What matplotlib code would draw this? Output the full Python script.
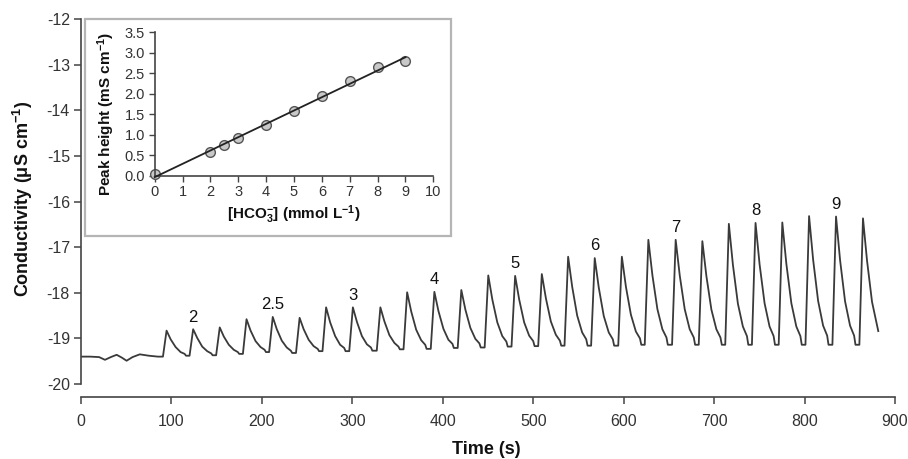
#!/usr/bin/env python3
import numpy as np
from matplotlib import pyplot as plt
from matplotlib.patches import Rectangle

plt.rcParams["font.family"] = ["Liberation Sans", "DejaVu Sans"]
plt.rcParams["mathtext.fontset"] = "custom"
plt.rcParams["mathtext.rm"] = "Liberation Sans"
plt.rcParams["mathtext.bf"] = "Liberation Sans:bold"
plt.rcParams["mathtext.it"] = "Liberation Sans:italic"
plt.rcParams["axes.unicode_minus"] = False

# conductivity trace (s, uS/cm), one injection per line
time_s = [
    0, 10, 20, 26.5, 33, 39.4, 45, 50.4, 57, 65, 75, 85,
    90.6, 94.6, 99.1, 104.6, 110.1, 114.6, 116.1,
    120, 124, 128.5, 134, 139.5, 144, 145.5,
    149.4, 153.4, 157.9, 163.4, 168.9, 173.4, 174.9,
    179, 183, 187.5, 193, 198.5, 203, 204.5,
    208, 212, 216.5, 222, 227.5, 232, 233.5,
    237.7, 241.7, 246.2, 251.7, 257.2, 261.7, 263.2,
    267, 271, 275.5, 281, 286.5, 291, 292.5,
    296.6, 300.6, 305.1, 310.6, 316.1, 320.6, 322.1,
    327, 331, 335.5, 341, 346.5, 351, 352.5,
    356.6, 360.6, 365.1, 370.6, 376.1, 380.6, 382.1,
    386.7, 390.7, 395.2, 400.7, 406.2, 410.7, 412.2,
    416.5, 420.5, 425, 430.5, 436, 440.5, 442,
    446.3, 450.3, 454.8, 460.3, 465.8, 470.3, 471.8,
    476, 480, 484.5, 490, 495.5, 500, 501.5,
    505.5, 509.5, 514, 519.5, 525, 529.5, 531,
    534.6, 538.6, 543.1, 548.6, 554.1, 558.6, 560.1,
    564, 568, 572.5, 578, 583.5, 588, 589.5,
    594, 598, 602.5, 608, 613.5, 618, 619.5,
    623.3, 627.3, 631.8, 637.3, 642.8, 647.3, 648.8,
    653.5, 657.5, 662, 667.5, 673, 677.5, 679,
    683, 687, 691.5, 697, 702.5, 707, 708.5,
    712.3, 716.3, 720.8, 726.3, 731.8, 736.3, 737.8,
    741.8, 745.8, 750.3, 755.8, 761.3, 765.8, 767.3,
    771.4, 775.4, 779.9, 785.4, 790.9, 795.4, 796.9,
    801, 805, 809.5, 815, 820.5, 825, 826.5,
    830.8, 834.8, 839.3, 844.8, 850.3, 854.8, 856.3,
    860.6, 864.6, 869.1, 874.6, 881.5,
]
cond = [
    -19.40, -19.40, -19.41, -19.47, -19.41, -19.36, -19.42, -19.49, -19.41, -19.35, -19.38, -19.40,
    -19.40, -18.83, -19.02, -19.19, -19.30, -19.34, -19.38,
    -19.38, -18.80, -18.99, -19.18, -19.28, -19.33, -19.37,
    -19.37, -18.76, -18.96, -19.14, -19.25, -19.30, -19.34,
    -19.34, -18.58, -18.83, -19.06, -19.19, -19.25, -19.30,
    -19.30, -18.53, -18.80, -19.05, -19.20, -19.27, -19.32,
    -19.32, -18.55, -18.80, -19.03, -19.17, -19.23, -19.28,
    -19.28, -18.32, -18.65, -18.95, -19.14, -19.21, -19.28,
    -19.28, -18.32, -18.64, -18.95, -19.13, -19.20, -19.27,
    -19.27, -18.32, -18.63, -18.93, -19.10, -19.18, -19.24,
    -19.24, -17.99, -18.41, -18.81, -19.04, -19.14, -19.23,
    -19.23, -17.98, -18.40, -18.79, -19.03, -19.12, -19.21,
    -19.21, -17.94, -18.37, -18.77, -19.01, -19.11, -19.20,
    -19.20, -17.62, -18.15, -18.65, -18.95, -19.07, -19.18,
    -19.18, -17.63, -18.15, -18.65, -18.94, -19.06, -19.17,
    -19.17, -17.59, -18.12, -18.63, -18.92, -19.05, -19.16,
    -19.16, -17.21, -17.87, -18.50, -18.87, -19.02, -19.16,
    -19.16, -17.24, -17.89, -18.51, -18.87, -19.02, -19.16,
    -19.16, -17.21, -17.87, -18.48, -18.85, -19.00, -19.14,
    -19.14, -16.84, -17.62, -18.36, -18.80, -18.98, -19.14,
    -19.14, -16.84, -17.62, -18.36, -18.80, -18.98, -19.14,
    -19.14, -16.87, -17.64, -18.37, -18.80, -18.98, -19.14,
    -19.14, -16.49, -17.39, -18.24, -18.74, -18.95, -19.14,
    -19.14, -16.47, -17.38, -18.23, -18.74, -18.95, -19.14,
    -19.14, -16.46, -17.37, -18.23, -18.74, -18.95, -19.14,
    -19.14, -16.32, -17.28, -18.18, -18.72, -18.94, -19.14,
    -19.14, -16.33, -17.29, -18.19, -18.72, -18.94, -19.14,
    -19.14, -16.37, -17.30, -18.20, -18.84,
]

# concentration labels above the middle peak of each triplet
label_txt = ["2", "2.5", "3", "4", "5", "6", "7", "8", "9"]
label_t = [124, 212, 300.6, 390.7, 480, 568, 657.5, 745.8, 834.8]
label_v = [-18.80, -18.53, -18.32, -17.98, -17.63, -17.24, -16.84, -16.47, -16.33]

# calibration inset
conc = [0, 2, 2.5, 3, 4, 5, 6, 7, 8, 9]
peak_height = [0.03, 0.57, 0.74, 0.91, 1.24, 1.59, 1.94, 2.30, 2.66, 2.79]

W, H = 908, 459
INK = "#333333"

fig = plt.figure(figsize=(W / 100, H / 100), dpi=100)

ax = fig.add_axes([81 / W, 1 - 384 / H, 814 / W, 365 / H])
ax.plot(time_s, cond, color="#3a3a3a", lw=1.3, solid_joinstyle="round")
ax.set_xlim(0, 900)
ax.set_ylim(-20, -12)
ax.set_xticks(np.arange(0, 901, 100))
ax.set_yticks(np.arange(-20, -11, 1))
for s in ("top", "right"):
    ax.spines[s].set_visible(False)
ax.spines["bottom"].set_position(("outward", 9.4))
for s in ("left", "bottom"):
    ax.spines[s].set_color("#444444")
    ax.spines[s].set_linewidth(1.2)
ax.tick_params(axis="both", direction="out", length=5, width=1.1,
               color="#444444", labelcolor=INK, labelsize=11.5)
ax.tick_params(axis="x", pad=7)
ax.tick_params(axis="y", pad=3)

for txt, t, v in zip(label_txt, label_t, label_v):
    ax.annotate(txt, (t, v), xytext=(0, 5.5), textcoords="offset points",
                ha="center", va="baseline", fontsize=12, color="#111111")

fig.text(486 / W, 1 - 449 / H, "Time (s)", ha="center", va="center",
         fontsize=13, fontweight="bold", color="#111111")
fig.text(23 / W, 1 - 199 / H, r"Conductivity (μS cm$^{\mathbf{-1}}$)",
         ha="center", va="center", rotation=90, rotation_mode="anchor",
         fontsize=13, fontweight="bold", color="#111111")

# inset frame
fig.add_artist(Rectangle((85 / W, 1 - 236 / H), 366 / W, 217 / H,
                         transform=fig.transFigure, facecolor="white",
                         edgecolor="#b5b5b5", lw=1.6, zorder=1))

ins = fig.add_axes([154.7 / W, 1 - 175.7 / H, 278.6 / W, 143.4 / H], zorder=2)
ins.set_facecolor("none")
ins.plot(conc, peak_height, "o", ms=7, mfc="#c8c8c8", mec="#555555",
         mew=1.0, clip_on=False, zorder=2)
slope, icpt = np.polyfit(conc, peak_height, 1)
fit_x = np.array([conc[0], conc[-1]])
ins.plot(fit_x, slope * fit_x + icpt, color="#222222", lw=1.3, zorder=3,
         clip_on=False)
ins.set_xlim(0, 10)
ins.set_ylim(0, 3.5)
ins.set_xticks(np.arange(0, 11, 1))
ins.set_yticks(np.arange(0, 3.51, 0.5))
ins.yaxis.set_major_formatter(plt.FormatStrFormatter("%.1f"))
for s in ("top", "right"):
    ins.spines[s].set_visible(False)
for s in ("left", "bottom"):
    ins.spines[s].set_color("#444444")
    ins.spines[s].set_linewidth(1.2)
ins.tick_params(axis="both", direction="out", length=4, width=1.0,
                color="#444444", labelcolor=INK, labelsize=10.5, pad=3)

fig.text(294 / W, 1 - 215 / H, r"[HCO$_{\mathbf{3}}^{\mathbf{-}}$] (mmol L$^{\mathbf{-1}}$)",
         ha="center", va="center", fontsize=11, fontweight="bold",
         color="#111111")
fig.text(106 / W, 1 - 114 / H, r"Peak height (mS cm$^{\mathbf{-1}}$)",
         ha="center", va="center", rotation=90, rotation_mode="anchor",
         fontsize=11, fontweight="bold", color="#111111")

fig.savefig("out.png", dpi=100)
